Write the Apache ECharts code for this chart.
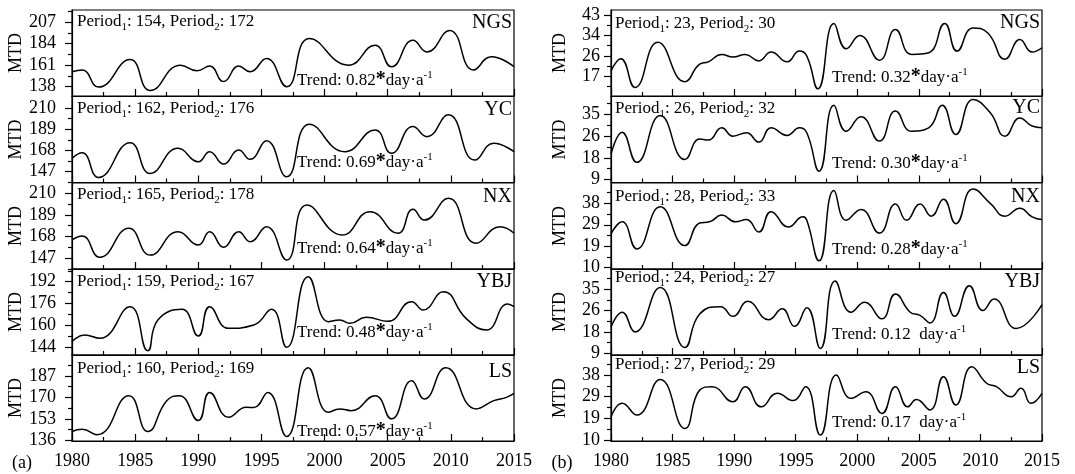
<!DOCTYPE html>
<html><head><meta charset="utf-8">
<script src="https://cdn.jsdelivr.net/npm/echarts@6/dist/echarts.min.js"></script>
<style>html,body{margin:0;padding:0;background:#fff}#c{width:1075px;height:474px}</style>
</head><body><div id="c"></div>
<script>
// ---------- DATA ----------
const stations = ['NGS', 'YC', 'NX', 'YBJ', 'LS'];
const xTicks = [1980, 1985, 1990, 1995, 2000, 2005, 2010, 2015];

// (a) series: [year, MTD]
const a_NGS = [[1980,154],[1980.8,155.8],[1982.1,137.5],[1984.6,167],[1986.2,133.9],[1988.6,161],[1989.9,155],[1990.9,160],[1992.0,143.4],[1993.2,160],[1994.1,154],[1995.4,168.2],[1997.0,138],[1998.8,189.4],[2001.9,161],[2004.0,182.3],[2005.3,159.3],[2007.0,187.6],[2008.1,175.2],[2009.9,198.2],[2011.8,155.8],[2013.2,170],[2015,159.3]];
const a_YC = [[1980,160],[1980.8,165.6],[1982.1,141],[1984.6,175.6],[1986.2,145],[1988.4,170],[1990.0,156.6],[1990.9,166.6],[1992.0,154.3],[1993.2,168.3],[1994.1,159],[1995.4,177.6],[1997.0,141.6],[1998.8,194],[2001.6,166.6],[2004.0,188.3],[2005.3,165],[2007.0,191.6],[2008.1,181.6],[2009.8,203.3],[2011.9,158.3],[2013.4,175],[2015,166.6]];
const a_NX = [[1980,164.7],[1980.8,168.5],[1982.2,147.9],[1984.5,176],[1986.2,150],[1988.4,172.7],[1990.0,159.8],[1990.9,172.7],[1992.0,157.6],[1993.2,172.7],[1994.1,163],[1995.4,177.6],[1997.0,145.2],[1998.6,198.6],[2001.4,169.5],[2003.6,192.1],[2005.8,171.2],[2007.0,194.5],[2007.9,184],[2009.8,205.1],[2012.0,161.5],[2013.9,177.6],[2015,171.2]];
const a_YBJ = [[1980,148.1],[1981.0,153],[1982.2,150.6],[1984.6,173.7],[1986.0,141.5],[1986.8,164],[1988.7,171.8],[1990.0,152.3],[1990.9,173.7],[1992.4,157.9],[1994.4,160.3],[1995.8,171.8],[1997.0,144],[1998.7,195.7],[2000.3,162.7],[2001.2,164],[2002.0,161.6],[2003.3,166],[2005.0,163],[2006.9,177.4],[2007.8,171.3],[2009.4,184.7],[2011.2,165.2],[2012.8,156.7],[2014.5,175.7],[2015,173.7]];
const a_LS = [[1980,143],[1980.8,144.8],[1982.0,140.5],[1984.5,171.3],[1986.0,143],[1987.5,167.4],[1988.5,171.3],[1990.0,151.7],[1990.9,173.9],[1992.4,154.3],[1993.8,162.1],[1994.4,162],[1995.5,173.9],[1997.0,139.1],[1998.7,193.5],[2000.3,158.2],[2001.2,160.9],[2002.1,159.5],[2004.0,171.3],[2005.3,153],[2006.9,183.1],[2007.9,168.7],[2009.6,193.5],[2012.0,160.9],[2013.4,167.4],[2014.4,170],[2015,173.1]];

// (b) series: [year, MTD]
const b_NGS = [[1980,19.5],[1980.8,24.6],[1981.95,12.6],[1983.8,31.5],[1986.0,15],[1987.2,22.3],[1987.9,23.3],[1989.0,26.4],[1989.9,25.3],[1990.9,26.4],[1992.0,23.7],[1993.0,27.4],[1994.3,23.3],[1995.3,27.8],[1995.9,25.7],[1996.8,12],[1998.1,39.3],[1999.1,28.8],[2000.2,34.3],[2001.8,24],[2003.1,36.8],[2004.4,26.4],[2005.8,27.1],[2007.1,39.3],[2008.1,27.8],[2009.4,37.5],[2010.6,35.4],[2012.0,24.4],[2013.2,32.6],[2014.2,27.4],[2015,29.2]];
const b_YC = [[1980,19],[1980.9,28],[1982.1,15.8],[1984.0,34.8],[1986.0,16.9],[1987.2,25.3],[1987.9,24.8],[1989.0,29.8],[1989.9,26.4],[1991.0,27.8],[1992.0,24],[1993.0,29.8],[1994.3,26.7],[1995.3,29.8],[1995.9,27.8],[1996.9,12.2],[1998.1,38.9],[1999.1,28.4],[2000.3,34.3],[2001.8,24.4],[2003.1,36.6],[2004.4,28.4],[2005.8,29.8],[2006.9,38.9],[2008.0,27.1],[2009.4,41.3],[2010.8,35.9],[2012.0,26.4],[2013.2,33.8],[2014.2,30.5],[2015,29.8]];
const b_NX = [[1980,24.5],[1980.9,29.8],[1982.1,17.8],[1984.0,36.5],[1986.0,19.3],[1987.2,29.3],[1988.0,29.8],[1989.0,32.8],[1990.1,29.8],[1991.0,30.8],[1992.0,25.3],[1993.0,34.3],[1994.4,27.5],[1995.6,32],[1995.9,30.5],[1996.9,12.5],[1998.1,43.7],[1999.1,30.5],[2000.3,35.3],[2001.8,24.8],[2003.1,37.7],[2004.0,30.5],[2005.1,37.7],[2006.0,32.3],[2007.0,39.8],[2008.0,29],[2009.4,44.3],[2010.8,38],[2012.0,32.3],[2013.2,35.8],[2014.2,32],[2015,30.8]];
const b_YBJ = [[1980,19.6],[1980.9,25.7],[1981.95,17.6],[1984.0,35.9],[1986.0,11.2],[1987.2,25],[1988.9,28],[1989.9,24],[1991.1,30.2],[1992.8,22.6],[1993.9,27.1],[1994.9,19.9],[1995.9,27.5],[1997.0,10.8],[1998.2,38.6],[1999.5,25.7],[2000.6,29.8],[2002.0,23],[2003.1,33.2],[2004.3,25.7],[2005.1,24.4],[2005.9,21.3],[2007.0,33.8],[2007.9,24],[2009.1,36.6],[2010.2,26.4],[2011.1,31.1],[2012.9,19],[2015,28.8]];
const b_LS = [[1980,19.7],[1980.9,25.6],[1982.1,20.5],[1984.0,36.1],[1986.0,14.6],[1987.2,31.4],[1988.2,32.9],[1989.9,26.3],[1990.9,32.9],[1992.2,24.1],[1993.5,30],[1994.8,26.8],[1995.8,32.9],[1997.0,11.7],[1998.3,38],[1999.5,27.8],[2000.7,30.7],[2002.0,21.2],[2003.1,32.9],[2004.1,24.1],[2004.8,27.3],[2005.9,22.7],[2007.0,37.3],[2008.0,24.9],[2009.3,41.7],[2010.5,34.4],[2011.3,32.9],[2012.5,28.5],[2013.3,32.2],[2014.1,25.6],[2015,30]];

// y tick values (labels shown rounded)
const a_yTicks = [[138,161,184,207],[147,168,189,210],[147,168,189,210],[144,160,176,192],[136,153,170,187]];
const a_yMinor = [[149.5,172.5,195.5,218.5],[136.5,157.5,178.5,199.5],[136.5,157.5,178.5,199.5],[152,168,184,200],[144.5,161.5,178.5,195.5]];
const b_yTicks = [[17.2,25.8,34.4,43],[8.8,17.6,26.4,35.2],[9.5,19,28.5,38],[8.8,17.6,26.4,35.2],[9.5,19,28.5,38]];
const b_yMinor = [[12.9,21.5,30.1,38.7],[13.2,22,30.8,39.6],[14.25,23.75,33.25,42.75],[13.2,22,30.8,39.6],[14.25,23.75,33.25,42.75]];
const a_yRange = [[128,220],[136,221.5],[136.5,220],[138.4,201.3],[135.5,203.5]];
const b_yRange = [[9,45],[7.6,42.5],[8.9,47],[8.1,43.5],[9.1,46.8]];

// annotations
const a_period = [[154,172],[162,176],[165,178],[159,167],[160,169]];
const b_period = [[23,30],[26,32],[28,33],[24,27],[27,29]];
const a_trend = [['0.82',true],['0.69',true],['0.64',true],['0.48',true],['0.57',true]];
const b_trend = [['0.32',true],['0.30',true],['0.28',true],['0.12',false],['0.17',false]];

// ---------- LAYOUT ----------
const FONT = "'Liberation Serif','Times New Roman',serif";
const tops = [10, 96.5, 183, 269, 355];
const H = 86;
const cols = [
  {left:72, width:442, series:[a_NGS,a_YC,a_NX,a_YBJ,a_LS], ticks:a_yTicks, minors:a_yMinor, ranges:a_yRange, labMargin:16, nameGap:43,
   period:a_period, trend:a_trend, perX:77, perY:[22,108.3,195,281.7,368.3], stX:512, stY:[23,110,196.7,281.7,371.7], trX:297, trY:[81,163,249,333,432], tag:'(a)', tagX:22},
  {left:611, width:431, series:[b_NGS,b_YC,b_NX,b_YBJ,b_LS], ticks:b_yTicks, minors:b_yMinor, ranges:b_yRange, labMargin:11, nameGap:42,
   period:b_period, trend:b_trend, perX:615, perY:[23.3,108.3,197,278,364.5], stX:1040, stY:[23,108,197,282,368], trX:832, trY:[77.5,164,249.5,334.5,422.5], tag:'(b)', tagX:562}
];

const black = '#000';
const grids = [], xAxes = [], yAxes = [], series = [], graphics = [];
const rich = {
  n:{fontFamily:FONT, fontSize:17, lineHeight:22, verticalAlign:'middle', fill:black},
  s:{fontFamily:FONT, fontSize:11, lineHeight:12, verticalAlign:'bottom', fill:black},
  sp:{fontFamily:FONT, fontSize:11, lineHeight:12, verticalAlign:'top', fill:black},
  st:{fontFamily:FONT, fontSize:20, lineHeight:22, fontWeight:'bold', verticalAlign:'top', fill:black}
};

cols.forEach((c, ci) => {
  for (let i = 0; i < 5; i++) {
    const p = ci * 5 + i;
    const bottom = i === 4;
    const [mn, mx] = c.ranges[i];
    grids.push({left:c.left, top:tops[i], width:c.width, height:H, show:true, borderColor:black, borderWidth:1.2, backgroundColor:'transparent', containLabel:false, outerBoundsMode:'none'});
    xAxes.push({gridIndex:p, type:'value', min:xTicks[0], max:xTicks[xTicks.length-1], interval:5,
      axisLine:{show:true, onZero:false, lineStyle:{color:black, width:1.2}},
      axisTick:{show:true, inside:true, length:7, lineStyle:{color:black, width:1.2}},
      minorTick:{show:true, splitNumber:2, length:4, lineStyle:{color:black, width:1.2}},
      axisLabel:{show:bottom, fontFamily:FONT, fontSize:18, color:black, margin:11, formatter:v => String(v)},
      splitLine:{show:false}, minorSplitLine:{show:false}});
    const tk = c.ticks[i].filter(v => v >= mn && v <= mx);
    const mk = c.minors[i].filter(v => v >= mn && v <= mx);
    yAxes.push({gridIndex:p, type:'value', position:'left', min:mn, max:mx,
      axisLine:{show:true, onZero:false, lineStyle:{color:black, width:1.2}},
      axisTick:{show:true, inside:false, length:7, customValues:tk, lineStyle:{color:black, width:1.2}},
      axisLabel:{show:true, customValues:tk, formatter:v => String(Math.round(v)), fontFamily:FONT, fontSize:18, color:black, margin:c.labMargin, showMinLabel:true, showMaxLabel:true},
      splitLine:{show:false},
      name:'MTD', nameLocation:'middle', nameGap:c.nameGap, nameTextStyle:{fontFamily:FONT, fontSize:18, color:black}});
    yAxes.push({gridIndex:p, type:'value', position:'left', min:mn, max:mx,
      axisLine:{show:false},
      axisTick:{show:true, inside:false, length:4, customValues:mk, lineStyle:{color:black, width:1.2}},
      axisLabel:{show:false}, splitLine:{show:false}});
    series.push({type:'line', xAxisIndex:p, yAxisIndex:2*p, data:c.series[i], smooth:true, showSymbol:false, silent:true,
      lineStyle:{color:black, width:1.5}});

    const per = c.period[i];
    graphics.push({type:'text', x:c.perX, y:c.perY[i], silent:true,
      style:{text:`{n|Period}{s|1}{n|: ${per[0]}, Period}{s|2}{n|: ${per[1]}}`, rich, align:'left', verticalAlign:'middle', fontFamily:FONT, fontSize:17, fill:black}});
    graphics.push({type:'text', x:c.stX, y:c.stY[i], silent:true,
      style:{text:stations[i], align:'right', verticalAlign:'middle', fontFamily:FONT, fontSize:20, fill:black}});
    const tr = c.trend[i];
    const ttext = tr[1] ? `{n|Trend: ${tr[0]}}{st|*}{n|day·a}{sp|-1}` : `{n|Trend: ${tr[0]}  day·a}{sp|-1}`;
    graphics.push({type:'text', x:c.trX, y:c.trY[i], silent:true,
      style:{text:ttext, rich, align:'left', verticalAlign:'middle', fontFamily:FONT, fontSize:17, fill:black}});
  }
  graphics.push({type:'text', x:c.tagX, y:463, silent:true,
    style:{text:c.tag, align:'center', verticalAlign:'middle', fontFamily:FONT, fontSize:18, fill:black}});
});

const chart = echarts.init(document.getElementById('c'), null, {renderer:'canvas'});
chart.setOption({animation:false, backgroundColor:'#fff', grid:grids, xAxis:xAxes, yAxis:yAxes, series, graphic:graphics});
</script></body></html>
